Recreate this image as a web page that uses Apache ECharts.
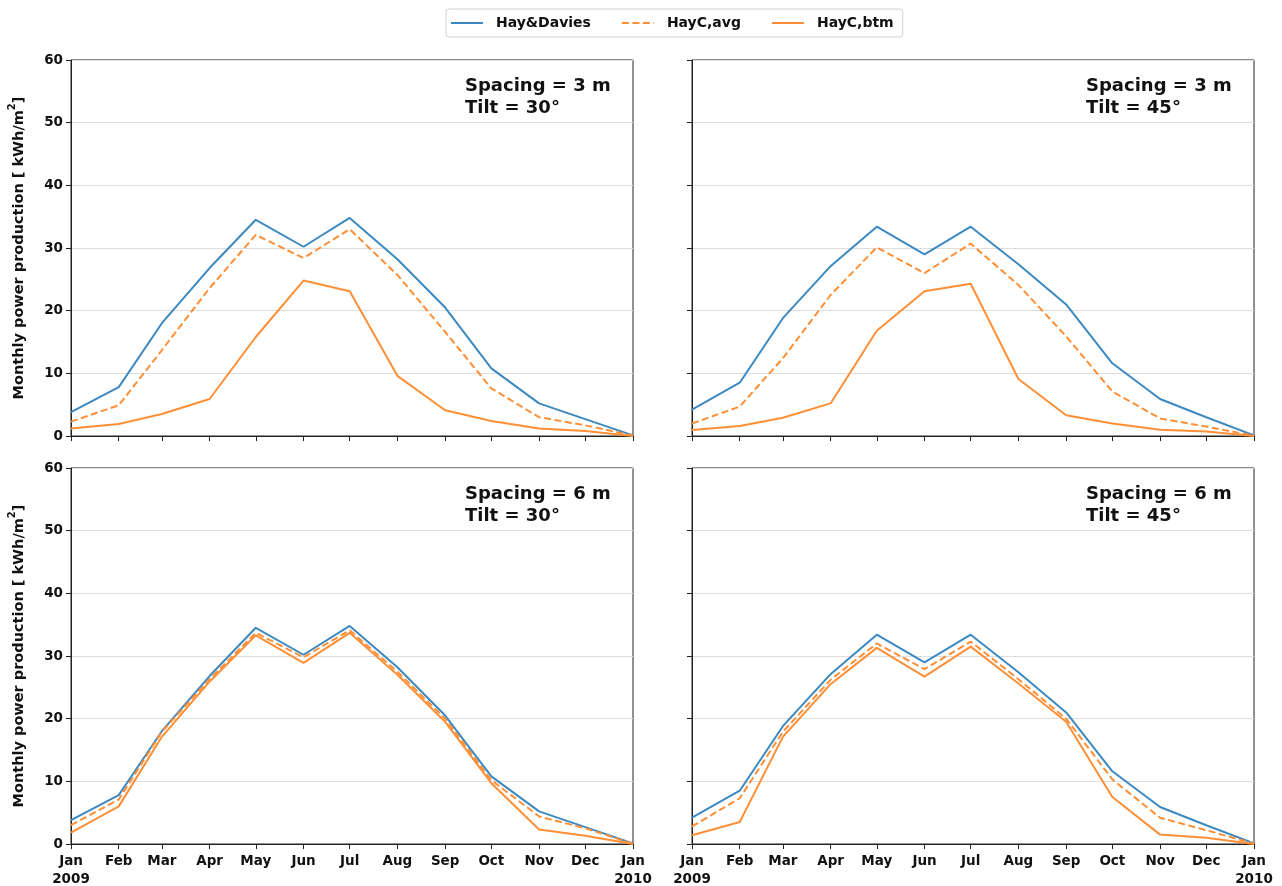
<!DOCTYPE html>
<html>
<head>
<meta charset="utf-8">
<script src="https://cdn.jsdelivr.net/npm/echarts@6/dist/echarts.min.js"></script>
<style>
  html, body { margin: 0; padding: 0; background: #fff; }
  #chart { width: 1282px; height: 886px; }
</style>
</head>
<body>
<div id="chart"></div>
<script>
// Month starts of the simulated year (13 points, Jan 2009 .. Jan 2010)
const months = ['2009-01-01','2009-02-01','2009-03-01','2009-04-01','2009-05-01','2009-06-01',
                '2009-07-01','2009-08-01','2009-09-01','2009-10-01','2009-11-01','2009-12-01','2010-01-01'];
const monthLabels = ['Jan\n2009','Feb','Mar','Apr','May','Jun','Jul','Aug','Sep','Oct','Nov','Dec','Jan\n2010'];
const yTicks = [0, 10, 20, 30, 40, 50, 60];
const seriesNames = ['Hay&Davies', 'HayC,avg', 'HayC,btm'];

// Monthly power production [kWh/m²], tilt 30°
const hayDavies30 = [3.8, 7.8, 18.0, 26.8, 34.5, 30.2, 34.8, 28.2, 20.5, 10.8, 5.2, 2.7, 0.1];
const avgS3T30    = [2.3, 4.9, 13.7, 23.6, 32.1, 28.4, 33.0, 25.7, 16.6, 7.6, 3.0, 1.7, 0.05];
const btmS3T30    = [1.2, 1.9, 3.5, 5.9, 15.8, 24.8, 23.1, 9.6, 4.1, 2.4, 1.2, 0.8, 0.0];
const avgS6T30    = [3.0, 7.1, 17.9, 26.3, 33.7, 29.8, 34.1, 27.5, 20.0, 10.2, 4.4, 2.5, 0.05];
const btmS6T30    = [1.8, 6.0, 17.1, 25.9, 33.3, 28.9, 33.7, 27.0, 19.5, 9.7, 2.3, 1.3, 0.0];

// Monthly power production [kWh/m²], tilt 45°
const hayDavies45 = [4.2, 8.5, 18.8, 27.1, 33.4, 29.0, 33.4, 27.4, 21.0, 11.6, 5.9, 3.0, 0.1];
const avgS3T45    = [2.0, 4.7, 12.4, 22.5, 30.1, 26.0, 30.7, 24.1, 15.9, 7.1, 2.8, 1.5, 0.05];
const btmS3T45    = [0.95, 1.6, 2.9, 5.2, 16.8, 23.1, 24.3, 9.1, 3.3, 2.0, 1.0, 0.7, 0.0];
const avgS6T45    = [2.8, 7.3, 17.9, 26.2, 32.0, 27.9, 32.3, 26.3, 20.0, 10.3, 4.2, 2.2, 0.05];
const btmS6T45    = [1.4, 3.5, 17.1, 25.5, 31.3, 26.7, 31.5, 25.6, 19.5, 7.5, 1.5, 1.0, 0.0];

const panelText = ['Spacing = 3 m\nTilt = 30°', 'Spacing = 3 m\nTilt = 45°',
                   'Spacing = 6 m\nTilt = 30°', 'Spacing = 6 m\nTilt = 45°'];
const panelSeries = [
  [hayDavies30, avgS3T30, btmS3T30],
  [hayDavies45, avgS3T45, btmS3T45],
  [hayDavies30, avgS6T30, btmS6T30],
  [hayDavies45, avgS6T45, btmS6T45]
];

const FONT = 'DejaVu Sans';
const BLUE = '#3c89c1';
const ORANGE = '#fe8f36';
const AXIS = '#222';

const times = months.map(s => new Date(s + 'T00:00:00').getTime());
const labelOf = {};
times.forEach((t, i) => { labelOf[t] = monthLabels[i]; });

const grids = [
  { left: 71,  top: 60,  width: 562, height: 376 },
  { left: 692, top: 60,  width: 562, height: 376 },
  { left: 71,  top: 468, width: 562, height: 376 },
  { left: 692, top: 468, width: 562, height: 376 }
];

const xAxes = grids.map((g, i) => ({
  type: 'value',
  gridIndex: i,
  min: times[0],
  max: times[times.length - 1],
  axisLine: { show: true, lineStyle: { color: AXIS, width: 1 } },
  axisTick: { show: true, inside: false, length: 5, customValues: times, lineStyle: { color: AXIS } },
  splitLine: { show: false },
  axisLabel: {
    show: i >= 2,
    customValues: times,
    formatter: v => labelOf[v] || '',
    fontFamily: FONT, fontWeight: 'bold', fontSize: 13.5, color: '#111',
    lineHeight: 18, margin: 8
  }
}));

const yAxes = grids.map((g, i) => ({
  type: 'value',
  gridIndex: i,
  min: 0, max: 60, interval: 10,
  name: (i % 2 === 0) ? '{t|Monthly power production [ kWh/m}{s|2}{t|]}' : '',
  nameLocation: 'middle',
  nameGap: 44,
  nameTextStyle: {
    fontFamily: FONT, fontWeight: 'bold', fontSize: 14.5, color: '#111',
    rich: {
      t: { fontFamily: FONT, fontWeight: 'bold', fontSize: 14.5, color: '#111', lineHeight: 20, verticalAlign: 'bottom' },
      s: { fontFamily: FONT, fontWeight: 'bold', fontSize: 10, color: '#111', lineHeight: 20, verticalAlign: 'top' }
    }
  },
  axisLine: { show: true, lineStyle: { color: AXIS, width: 1 } },
  axisTick: { show: true, inside: false, length: 5, customValues: yTicks, lineStyle: { color: AXIS } },
  splitLine: { show: true, lineStyle: { color: '#dedede', width: 1 } },
  axisLabel: {
    show: i % 2 === 0,
    customValues: yTicks,
    fontFamily: FONT, fontWeight: 'bold', fontSize: 13.5, color: '#111', margin: 8
  }
}));

const series = [];
panelSeries.forEach((vals, gi) => {
  vals.forEach((arr, si) => {
    series.push({
      name: seriesNames[si],
      type: 'line',
      xAxisIndex: gi,
      yAxisIndex: gi,
      symbol: 'none',
      animation: false,
      z: 2 + si,
      color: si === 0 ? BLUE : ORANGE,
      lineStyle: {
        width: 2,
        color: si === 0 ? BLUE : ORANGE,
        type: si === 1 ? [7, 3.5] : 'solid'
      },
      data: arr.map((v, k) => [times[k], v])
    });
  });
});

const titles = grids.map((g, i) => ({
  text: panelText[i],
  left: g.left + 389,
  top: g.top + 10,
  textStyle: { fontFamily: FONT, fontWeight: 'bold', fontSize: 18, color: '#111', lineHeight: 22 }
}));

const chart = echarts.init(document.getElementById('chart'), null, { renderer: 'canvas' });
chart.setOption({
  backgroundColor: '#fff',
  animation: false,
  title: titles,
  legend: {
    data: seriesNames,
    top: 9,
    left: 446,
    itemWidth: 32,
    itemHeight: 14,
    itemGap: 30,
    padding: [7, 9, 7, 4],
    borderColor: '#d0d0d0',
    borderWidth: 1,
    borderRadius: 3,
    itemStyle: { opacity: 0 },
    textStyle: { fontFamily: FONT, fontWeight: 'bold', fontSize: 14, color: '#111', padding: [0, 0, 0, 8] }
  },
  grid: grids.map(g => Object.assign({
    show: true, borderColor: AXIS, borderWidth: 1, backgroundColor: 'transparent',
    containLabel: false, outerBoundsMode: 'none'
  }, g)),
  xAxis: xAxes,
  yAxis: yAxes,
  series: series
});
</script>
</body>
</html>
